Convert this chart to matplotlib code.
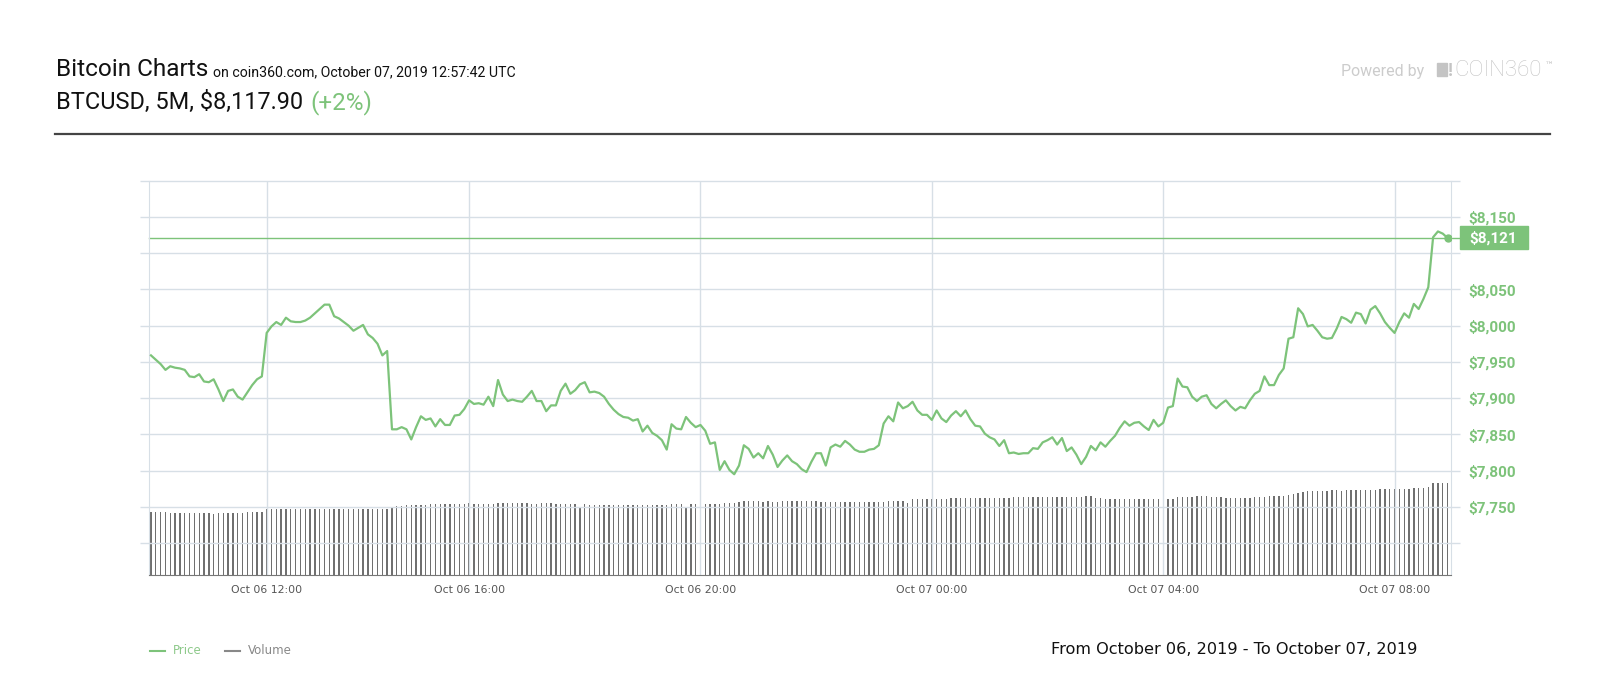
import matplotlib.pyplot as plt
from matplotlib.patches import Rectangle
from matplotlib.lines import Line2D

GREEN = '#7dc37a'
GRID = '#d7dfe6'

# 5 minute closes, Oct 06 ~10:00 UTC -> Oct 07 ~08:50 UTC
prices = [
    7959, 7953, 7947, 7939, 7944, 7942, 7941, 7939, 7930, 7929,
    7933, 7923, 7922, 7926, 7912, 7896, 7910, 7912, 7902, 7898,
    7908, 7918, 7926, 7930, 7990, 7999, 8005, 8001, 8011, 8006,
    8005, 8005, 8007, 8011, 8017, 8023, 8029, 8029, 8013, 8010,
    8005, 8000, 7993, 7997, 8001, 7988, 7983, 7975, 7959, 7965,
    7857, 7857, 7860, 7857, 7843, 7860, 7875, 7870, 7872, 7861,
    7871, 7863, 7863, 7876, 7877, 7885, 7897, 7892, 7893, 7891,
    7902, 7889, 7925, 7905, 7896, 7898, 7896, 7895, 7902, 7910,
    7896, 7896, 7882, 7890, 7890, 7910, 7920, 7906, 7911, 7919,
    7922, 7908, 7909, 7907, 7902, 7892, 7884, 7878, 7874, 7873,
    7869, 7871, 7854, 7862, 7852, 7848, 7842, 7829, 7864, 7858,
    7857, 7874, 7866, 7860, 7863, 7855, 7837, 7839, 7801, 7813,
    7801, 7795, 7807, 7835, 7830, 7818, 7824, 7817, 7834, 7822,
    7805, 7814, 7821, 7813, 7809, 7802, 7798, 7812, 7824, 7824,
    7807, 7832, 7836, 7833, 7841, 7836, 7829, 7826, 7826, 7829,
    7830, 7835, 7865, 7875, 7868, 7894, 7886, 7889, 7895, 7883,
    7877, 7877, 7870, 7883, 7872, 7867, 7876, 7882, 7875, 7883,
    7871, 7862, 7861, 7851, 7846, 7843, 7834, 7842, 7824, 7825,
    7823, 7824, 7824, 7831, 7830, 7839, 7842, 7846, 7836, 7845,
    7827, 7832, 7822, 7809, 7819, 7834, 7828, 7839, 7833, 7841,
    7848, 7859, 7868, 7862, 7866, 7867, 7861, 7856, 7870, 7861,
    7866, 7887, 7889, 7927, 7916, 7915, 7902, 7896, 7902, 7904,
    7892, 7886, 7892, 7897, 7889, 7883, 7888, 7886, 7897, 7906,
    7910, 7930, 7918, 7918, 7932, 7941, 7982, 7984, 8024, 8016,
    7999, 8001, 7993, 7984, 7982, 7983, 7996, 8012, 8009, 8004,
    8018, 8016, 8003, 8022, 8027, 8017, 8005, 7997, 7990, 8005,
    8017, 8011, 8030, 8023, 8037, 8053, 8122, 8130, 8127, 8121,
]

# volume bars (relative height)
volumes = [
    63, 63, 63, 63, 62, 62, 62, 62, 62, 62,
    62, 62, 62, 61, 62, 62, 62, 62, 62, 62,
    63, 63, 63, 63, 66, 66, 66, 66, 66, 66,
    66, 66, 66, 66, 66, 66, 66, 66, 66, 66,
    66, 66, 66, 66, 66, 66, 66, 66, 66, 66,
    67, 69, 69, 70, 70, 70, 70, 70, 71, 71,
    71, 71, 71, 71, 71, 71, 72, 71, 71, 71,
    71, 71, 72, 72, 72, 72, 72, 72, 72, 71,
    71, 72, 72, 72, 71, 71, 71, 71, 71, 67,
    71, 70, 70, 70, 70, 70, 70, 70, 70, 70,
    70, 70, 70, 70, 70, 70, 70, 70, 71, 71,
    71, 67, 71, 71, 72, 71, 71, 71, 71, 72,
    72, 72, 73, 74, 74, 74, 74, 73, 74, 73,
    73, 74, 74, 74, 74, 74, 74, 74, 74, 73,
    73, 73, 73, 73, 73, 73, 73, 73, 73, 73,
    73, 73, 73, 74, 74, 74, 74, 72, 76, 76,
    76, 76, 76, 76, 76, 76, 77, 77, 77, 77,
    77, 77, 77, 77, 77, 77, 77, 77, 77, 78,
    78, 78, 78, 78, 78, 78, 78, 78, 78, 78,
    78, 78, 78, 78, 79, 79, 77, 77, 76, 76,
    76, 76, 76, 76, 76, 76, 76, 76, 76, 76,
    76, 76, 76, 78, 78, 78, 78, 79, 79, 79,
    78, 78, 78, 77, 77, 77, 77, 77, 77, 78,
    78, 78, 79, 79, 79, 79, 80, 81, 82, 83,
    84, 84, 84, 84, 84, 85, 85, 84, 85, 85,
    85, 85, 85, 85, 85, 86, 86, 86, 86, 86,
    86, 86, 87, 87, 87, 88, 92, 92, 92, 92,
]

tick_pos = [24, 66, 114, 162, 210, 258]
tick_labels = ['Oct 06 12:00', 'Oct 06 16:00', 'Oct 06 20:00',
               'Oct 07 00:00', 'Oct 07 04:00', 'Oct 07 08:00']
# $8,100 sits under the current-price tag, so it is not labelled
price_ticks = [7750, 7800, 7850, 7900, 7950, 8000, 8050, 8150]
grid_levels = [7700, 7750, 7800, 7850, 7900, 7950, 8000, 8050, 8100, 8150, 8200]
last_price = 8121

W, H = 1600, 700
fx = lambda px: px / W
fy = lambda py: 1 - py / H

fig = plt.figure(figsize=(16, 7), dpi=100)
ax = fig.add_axes([fx(149.3), fy(575), 1301.4 / W, 394.3 / H])
axv = ax.twinx()
ax.set_zorder(axv.get_zorder() + 1)
ax.patch.set_visible(False)

idx = list(range(len(prices)))

# volume
axv.bar(idx, volumes, width=0.28, color='#707070', linewidth=0)
axv.set_ylim(0, 394.3)
axv.set_yticks([])
for s in axv.spines.values():
    s.set_visible(False)

# price
ax.plot(idx, prices, color=GREEN, lw=1.6, solid_joinstyle='round', zorder=3)
ax.plot(idx[-1], prices[-1], 'o', color=GREEN, ms=5, zorder=4)
ax.set_xlim(-0.35, 269.65)
ax.set_ylim(7656, 8200)

ax.hlines(grid_levels, -0.007, 1.007, transform=ax.get_yaxis_transform(),
          colors=GRID, lw=1, clip_on=False, zorder=0)
for t in tick_pos:
    ax.axvline(t, color=GRID, lw=1, zorder=0)
ax.axhline(last_price, xmin=0, xmax=1.007, color=GREEN, lw=1, clip_on=False, zorder=2)

ax.spines['top'].set_visible(False)
ax.spines['left'].set_color(GRID)
ax.spines['right'].set_color(GRID)
ax.spines['bottom'].set_color('#777777')

ax.yaxis.tick_right()
ax.set_yticks(price_ticks, labels=[f'${v:,}' for v in price_ticks])
ax.tick_params(axis='y', length=0, pad=12.5, labelsize=11, labelcolor=GREEN)
for lab in ax.get_yticklabels():
    lab.set_fontweight('bold')
    lab.set_family('Roboto')

ax.set_xticks(tick_pos, labels=tick_labels)
ax.tick_params(axis='x', length=0, pad=7, labelsize=7.8, labelcolor='#555555')

# current price tag
ax.add_patch(Rectangle((1.0071, last_price - 15.85), 0.0523, 31.7,
                       transform=ax.get_yaxis_transform(), color=GREEN,
                       clip_on=False, zorder=5))
ax.text(1.0141, last_price, f'${last_price:,}', transform=ax.get_yaxis_transform(),
        color='white', fontsize=11, fontweight='bold', family='Roboto',
        va='center', ha='left', zorder=6)

# header
fig.text(fx(56), fy(76), 'Bitcoin Charts', family='Roboto', fontsize=17.6,
         color='#111111', va='baseline')
fig.text(fx(213.3), fy(76), 'on coin360.com, October 07, 2019 12:57:42 UTC',
         family='Roboto', fontsize=10.2, color='#111111', va='baseline')
fig.text(fx(56), fy(109.3), 'BTCUSD, 5M, $8,117.90', family='Roboto', fontsize=16.9,
         color='#111111', va='baseline')
fig.text(fx(310), fy(109.3), '(+2%)', family='Roboto', fontsize=17.5,
         color=GREEN, va='baseline')
fig.add_artist(Line2D([fx(55), fx(1550)], [fy(134.3)] * 2, color='#444444', lw=1.6))

fig.text(fx(1340.7), fy(76), 'Powered by', family='Roboto', fontsize=11.5,
         color='#cccccc', va='baseline')
fig.add_artist(Rectangle((fx(1436.7), fy(76)), 10 / W, 12.5 / H, color='#c4c4c4'))
fig.text(fx(1447.5), fy(76), '!', family='Roboto', fontsize=13, fontweight='bold',
         color='#c4c4c4', va='baseline')
fig.text(fx(1454), fy(76), 'COIN360', family='Roboto', fontsize=16, fontweight='light',
         color='#c4c4c4', va='baseline')
fig.text(fx(1545), fy(68), '™', family='DejaVu Sans', fontsize=6.5, color='#c4c4c4',
         va='baseline')

# legend
fig.add_artist(Line2D([fx(150), fx(165)], [fy(650.7)] * 2, color=GREEN, lw=1.5))
fig.text(fx(172.7), fy(650.7), 'Price', fontsize=8.5, color='#8dc98a', va='center')
fig.add_artist(Line2D([fx(225), fx(240)], [fy(650.7)] * 2, color='#888888', lw=1.5))
fig.text(fx(248.3), fy(650.7), 'Volume', fontsize=8.5, color='#888888', va='center')

fig.text(fx(1050.7), fy(654), 'From October 06, 2019 - To October 07, 2019',
         fontsize=11.6, color='#111111', va='baseline')

fig.savefig('out.png', dpi=100)
